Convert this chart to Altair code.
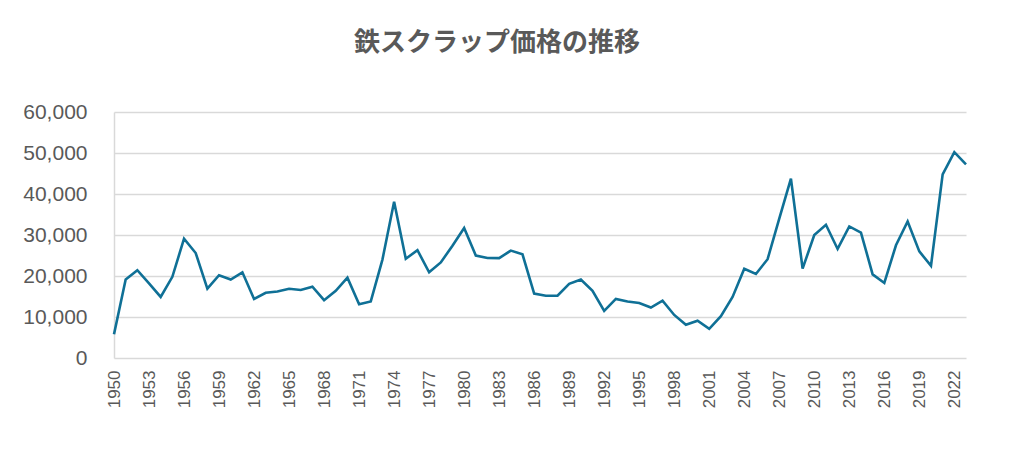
import altair as alt
import pandas as pd

years = list(range(1950, 2024))
prices = [
    5800, 19150, 21400, 18200, 14900, 19800, 29100, 25600, 16900, 20200,
    19150, 20900, 14400, 15900, 16200, 16900, 16600, 17400, 14100, 16400,
    19600, 13100, 13800, 24000, 38100, 24200, 26300, 20900, 23300, 27400,
    31700, 25000, 24400, 24350, 26200, 25300, 15700, 15200, 15200, 18100,
    19150, 16400, 11500, 14400, 13800, 13400, 12300, 14000, 10500, 8100,
    9100, 7100, 10200, 14900, 21750, 20500, 24100, 34000, 43750, 21800,
    30000, 32500, 26600, 32100, 30600, 20400, 18300, 27500, 33300, 26000,
    22500, 44800, 50200, 47200,
]
x_ticks = list(range(1950, 2024, 3))
y_ticks = [0, 10000, 20000, 30000, 40000, 50000, 60000]
title_text = "鉄スクラップ価格の推移"

df = pd.DataFrame({"year": years, "price": prices})

chart = (
    alt.Chart(df)
    .mark_line(color="#0f7096", strokeWidth=2.6)
    .encode(
        x=alt.X(
            "year:Q",
            scale=alt.Scale(domain=[1950, 2023], nice=False, zero=False),
            axis=alt.Axis(
                values=x_ticks,
                format="d",
                labelAngle=270,
                labelAlign="right",
                labelBaseline="middle",
                labelPadding=12,
                labelFontSize=17,
                labelColor="#595959",
                labelFont="Liberation Sans",
                ticks=False,
                domain=False,
                grid=False,
                title=None,
                labelOverlap=False,
                labelFlush=False,
            ),
        ),
        y=alt.Y(
            "price:Q",
            scale=alt.Scale(domain=[0, 60000], nice=False),
            axis=alt.Axis(
                values=y_ticks,
                format=",d",
                labelPadding=27,
                labelFontSize=21,
                labelColor="#595959",
                labelFont="Liberation Sans",
                ticks=False,
                domain=True,
                domainColor="#d9d9d9",
                domainWidth=1.5,
                grid=True,
                gridColor="#d9d9d9",
                gridWidth=1.3,
                title=None,
            ),
        ),
    )
    .properties(
        width=852,
        height=246,
        padding={"left": 106, "top": 104, "right": 50, "bottom": 80},
        autosize=alt.AutoSizeParams(type="none"),
        title=alt.TitleParams(
            text=title_text,
            font="Noto Sans CJK JP",
            fontSize=26,
            fontWeight="bold",
            color="#595959",
            anchor="middle",
            dx=-43,
            offset=45,
        ),
    )
    .configure_view(stroke=None)
)

chart.save("out.html", embed_options={"renderer": "svg", "actions": False})
